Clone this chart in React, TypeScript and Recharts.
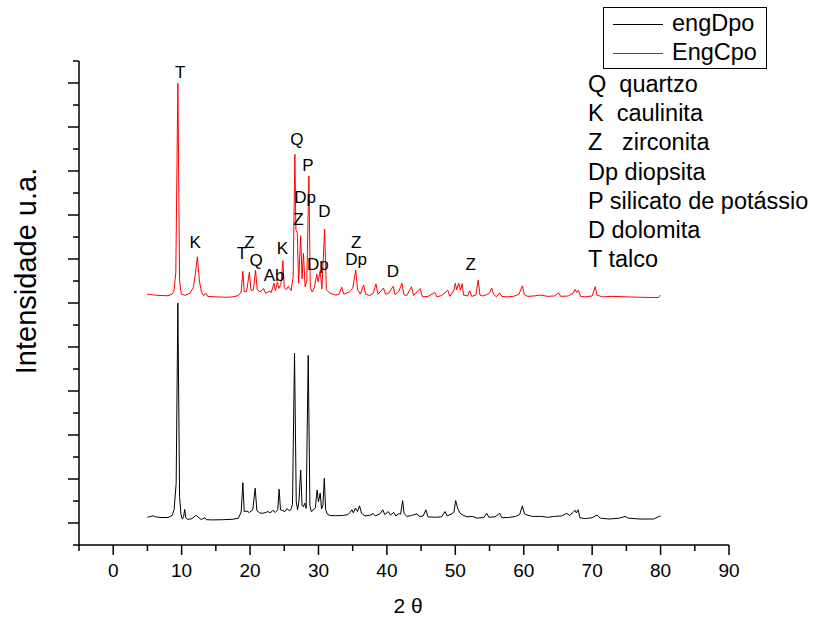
import React from "react";
import { LineChart, Line, XAxis, YAxis, ReferenceDot } from "recharts";

// 2θ / intensity pairs
const engDpo: [number, number][] = [
  [5.0, 130], [5.5, 150], [5.8, 165], [6.2, 140], [7.0, 125], [8.0, 125], [8.6, 170], [8.9, 300],
  [9.2, 900], [9.45, 5000], [9.7, 600], [9.9, 200], [10.1, 90], [10.3, 150], [10.45, 310], [10.6, 120],
  [10.9, 80], [11.5, 100], [11.9, 150], [12.15, 175], [12.5, 120], [12.9, 80], [13.4, 120], [13.6, 75],
  [14.5, 70], [16.0, 75], [17.5, 85], [18.3, 110], [18.7, 250], [18.95, 916], [19.15, 260], [19.5, 270],
  [19.9, 240], [20.4, 300], [20.75, 790], [21.0, 280], [21.4, 230], [21.8, 220], [22.3, 240], [22.6, 260],
  [23.0, 230], [23.3, 290], [23.7, 240], [24.05, 300], [24.25, 770], [24.45, 300], [24.8, 280], [25.1, 260],
  [25.4, 330], [25.7, 280], [25.95, 300], [26.2, 420], [26.5, 3860], [26.75, 480], [26.95, 300], [27.15, 500],
  [27.4, 1205], [27.6, 400], [27.8, 370], [28.0, 450], [28.2, 330], [28.5, 3810], [28.75, 400], [28.95, 260],
  [29.3, 300], [29.55, 350], [29.8, 750], [30.0, 480], [30.25, 680], [30.45, 320], [30.65, 400], [30.85, 1016],
  [31.05, 300], [31.3, 200], [31.7, 170], [32.5, 165], [33.5, 170], [34.3, 190], [34.6, 240], [34.9, 300],
  [35.1, 230], [35.4, 340], [35.7, 260], [36.0, 390], [36.3, 220], [36.8, 160], [37.5, 175], [38.0, 215],
  [38.3, 160], [39.0, 210], [39.4, 300], [39.7, 190], [40.2, 260], [40.5, 180], [41.0, 240], [41.3, 160],
  [41.7, 210], [42.0, 200], [42.3, 510], [42.5, 220], [42.9, 150], [43.6, 170], [44.4, 210], [44.7, 150],
  [45.3, 160], [45.7, 300], [46.0, 140], [47.0, 130], [48.0, 140], [48.5, 260], [48.8, 160], [49.5, 210],
  [49.8, 250], [50.05, 510], [50.35, 330], [50.7, 220], [51.1, 180], [51.7, 140], [52.5, 150], [53.2, 110],
  [54.2, 130], [54.6, 220], [54.9, 130], [55.8, 140], [56.5, 220], [56.8, 120], [57.8, 125], [58.8, 150],
  [59.4, 190], [59.8, 390], [60.1, 210], [60.5, 180], [61.3, 150], [62.5, 150], [63.5, 130], [64.5, 150],
  [65.5, 160], [66.3, 220], [66.7, 170], [67.2, 240], [67.5, 290], [67.7, 230], [67.95, 300], [68.2, 120],
  [69.0, 100], [70.0, 120], [70.7, 180], [71.2, 110], [72.5, 90], [74.0, 110], [74.8, 150], [75.3, 110],
  [77.0, 90], [79.0, 90], [79.9, 160], [80.0, 150],
];

const engCpo: [number, number][] = [
  [5.0, 5200], [5.5, 5195], [6.0, 5180], [7.0, 5170], [8.0, 5165], [8.6, 5200], [8.9, 5280], [9.15, 5700],
  [9.45, 9990], [9.7, 5500], [9.95, 5200], [10.5, 5175], [11.2, 5220], [11.7, 5350], [11.95, 5600], [12.3, 6050],
  [12.6, 5500], [12.9, 5250], [13.2, 5170], [13.6, 5220], [13.8, 5150], [15.0, 5140], [16.5, 5130], [17.5, 5140],
  [18.3, 5170], [18.7, 5250], [18.95, 5720], [19.15, 5260], [19.5, 5260], [19.9, 5700], [20.15, 5280], [20.5, 5300],
  [20.8, 5750], [21.05, 5300], [21.5, 5250], [21.95, 5330], [22.3, 5220], [22.8, 5270], [23.1, 5240], [23.5, 5450],
  [23.7, 5280], [24.0, 5480], [24.2, 5330], [24.5, 5420], [24.8, 5960], [25.0, 5350], [25.3, 5300], [25.6, 5380],
  [26.0, 5280], [26.3, 5600], [26.55, 8380], [26.7, 6660], [26.9, 6600], [27.1, 5450], [27.4, 6530], [27.6, 5550],
  [27.8, 6130], [28.05, 5370], [28.3, 5500], [28.6, 7890], [28.8, 5350], [29.1, 5250], [29.4, 5350], [29.75, 5660],
  [29.95, 5480], [30.25, 5735], [30.5, 5320], [30.9, 6680], [31.15, 5300], [31.7, 5220], [32.5, 5180], [33.0, 5200],
  [33.4, 5360], [33.7, 5200], [34.5, 5250], [35.0, 5330], [35.45, 5750], [35.7, 5310], [36.1, 5200], [36.6, 5410],
  [36.9, 5200], [37.5, 5170], [38.0, 5220], [38.4, 5430], [38.7, 5200], [39.5, 5340], [39.8, 5200], [40.3, 5230],
  [40.9, 5380], [41.2, 5190], [41.7, 5250], [42.2, 5450], [42.5, 5190], [42.9, 5170], [43.6, 5370], [43.9, 5170],
  [44.85, 5330], [45.2, 5140], [46.0, 5150], [47.0, 5240], [47.3, 5140], [48.0, 5170], [48.9, 5290], [49.2, 5150],
  [49.8, 5290], [50.0, 5450], [50.2, 5300], [50.5, 5450], [50.75, 5290], [51.0, 5440], [51.2, 5180], [51.8, 5160],
  [52.1, 5280], [52.4, 5150], [53.0, 5180], [53.35, 5520], [53.6, 5180], [54.0, 5160], [54.6, 5190], [55.0, 5230],
  [55.3, 5340], [55.6, 5200], [56.0, 5140], [56.45, 5230], [56.8, 5150], [57.5, 5140], [58.5, 5150], [59.3, 5200],
  [59.8, 5390], [60.1, 5190], [60.6, 5150], [61.5, 5160], [62.5, 5180], [63.5, 5150], [64.5, 5160], [65.1, 5230],
  [65.4, 5150], [66.5, 5160], [67.2, 5220], [67.5, 5310], [67.75, 5240], [68.0, 5290], [68.3, 5150], [69.0, 5140],
  [70.0, 5160], [70.45, 5370], [70.7, 5180], [71.5, 5140], [73.0, 5150], [75.0, 5140], [77.0, 5130], [79.0, 5125],
  [79.7, 5125], [80.0, 5180],
];

// phase markers: [2θ, intensity, letter]
const peakLabels: [number, number, string][] = [
  [9.79, 10243, "T"], [11.98, 6380, "K"], [18.8, 6114, "T"], [19.92, 6380, "Z"], [20.89, 5977, "Q"],
  [23.52, 5636, "Ab"], [24.74, 6243, "K"], [26.84, 8720, "Q"], [28.45, 8136, "P"], [28.05, 7393, "Dp"],
  [27.08, 6909, "Z"], [30.87, 7075, "D"], [29.91, 5880, "Dp"], [35.51, 6380, "Z"], [35.51, 5980, "Dp"],
  [40.87, 5711, "D"], [52.26, 5864, "Z"],
];

const phases = [
  "Q  quartzo",
  "K  caulinita",
  "Z   zirconita",
  "Dp diopsita",
  "P silicato de potássio",
  "D dolomita",
  "T talco",
];

const xTicks = [-5, 0, 5, 10, 15, 20, 25, 30, 35, 40, 45, 50, 55, 60, 65, 70, 75, 80, 85, 90];
const yTicks = [
  -500, 0, 500, 1000, 1500, 2000, 2500, 3000, 3500, 4000, 4500, 5000, 5500,
  6000, 6500, 7000, 7500, 8000, 8500, 9000, 9500, 10000, 10500,
];

const FONT = '"Liberation Sans", Arial, sans-serif';

const toRows = (pts: [number, number][]) => pts.map(([t, i]) => ({ t, i }));

function XTick(props: any) {
  const { x, y, payload } = props;
  const major = payload.value % 10 === 0;
  return (
    <g>
      <line x1={x} x2={x} y1={y} y2={y + (major ? 10 : 6)} stroke="#000" strokeWidth={1.5} />
      {major && (
        <text x={x} y={y + 32} textAnchor="middle" fontSize={19} fontFamily={FONT} fill="#000">
          {payload.value}
        </text>
      )}
    </g>
  );
}

function YTick(props: any) {
  const { x, y, payload } = props;
  const major = payload.value % 1000 === 0;
  return <line x1={x - (major ? 11 : 6)} x2={x} y1={y} y2={y} stroke="#000" strokeWidth={1.5} />;
}

function PeakText(props: any) {
  const { cx, cy, label } = props;
  return (
    <text x={cx} y={cy} textAnchor="middle" dominantBaseline="central" fontSize={17} fontFamily={FONT} fill="#000">
      {label}
    </text>
  );
}

export default function App() {
  return (
    <div style={{ position: "absolute", left: 0, top: 0, width: 813, height: 621, background: "#fff", fontFamily: FONT }}>
      <LineChart width={813} height={621} margin={{ top: 61, right: 84, bottom: 46, left: 19 }}>
        <XAxis
          dataKey="t"
          type="number"
          domain={[-5, 90]}
          ticks={xTicks}
          interval={0}
          allowDataOverflow
          tickSize={0}
          tickMargin={0}
          tickLine={false}
          tick={<XTick />}
          height={30}
          axisLine={{ stroke: "#000", strokeWidth: 1.5 }}
        />
        <YAxis
          type="number"
          domain={[-500, 10500]}
          ticks={yTicks}
          interval={0}
          allowDataOverflow
          tickSize={0}
          tickMargin={0}
          tickLine={false}
          tick={<YTick />}
          width={60}
          axisLine={{ stroke: "#000", strokeWidth: 1.5 }}
        />
        <Line
          data={toRows(engDpo)}
          dataKey="i"
          type="linear"
          stroke="#000"
          strokeWidth={1}
          dot={false}
          isAnimationActive={false}
        />
        <Line
          data={toRows(engCpo)}
          dataKey="i"
          type="linear"
          stroke="#ff0000"
          strokeWidth={1}
          dot={false}
          isAnimationActive={false}
        />
        {peakLabels.map(([t, i, s], k) => (
          <ReferenceDot key={k} x={t} y={i} r={1} shape={(p: any) => <PeakText {...p} label={s} />} />
        ))}
      </LineChart>

      {/* axis titles */}
      <div
        style={{
          position: "absolute", left: 26, top: 271, fontSize: 29, whiteSpace: "nowrap", lineHeight: 1,
          transform: "translate(-50%, -50%) rotate(-90deg)",
        }}
      >
        Intensidade u.a.
      </div>
      <div style={{ position: "absolute", left: 408, top: 606, fontSize: 21, transform: "translate(-50%, -50%)", whiteSpace: "pre" }}>
        2 θ
      </div>

      {/* series legend */}
      <div style={{ position: "absolute", left: 603, top: 7, width: 162, height: 60, border: "1px solid #000", fontSize: 23.5 }}>
        <div style={{ position: "absolute", left: 9, top: 16, width: 50, height: 1, background: "#000" }} />
        <div style={{ position: "absolute", left: 68, top: 16, transform: "translateY(-50%)", lineHeight: 1 }}>engDpo</div>
        <div style={{ position: "absolute", left: 9, top: 45, width: 50, height: 1, background: "#ff0000" }} />
        <div style={{ position: "absolute", left: 68, top: 45, transform: "translateY(-50%)", lineHeight: 1 }}>EngCpo</div>
      </div>

      {/* phase key */}
      <div style={{ position: "absolute", left: 588, top: 70, fontSize: 23.5, lineHeight: "29.2px", whiteSpace: "pre" }}>
        {phases.map((p) => (
          <div key={p}>{p}</div>
        ))}
      </div>
    </div>
  );
}
